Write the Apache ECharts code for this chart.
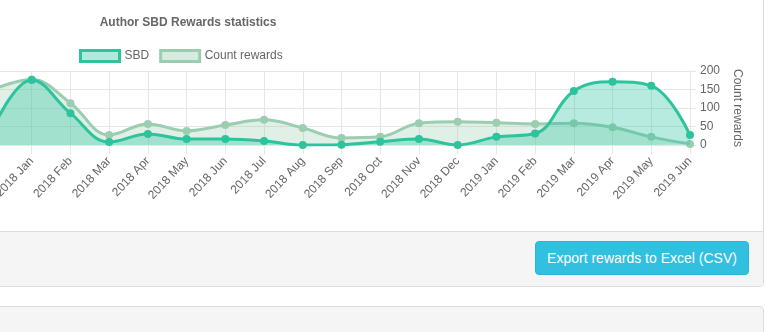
<!DOCTYPE html>
<html>
<head>
<meta charset="utf-8">
<script src="https://cdn.jsdelivr.net/npm/echarts@6/dist/echarts.min.js"></script>
<style>
  html, body { margin: 0; padding: 0; width: 765px; height: 332px; overflow: hidden; background: #fff; font-family: "Liberation Sans", Arial, sans-serif; }
  .panel { position: absolute; left: -10px; top: -10px; width: 772px; height: 295px; border: 1px solid #dddddd; border-radius: 4px; background: #fff; overflow: hidden; }
  .footer { position: absolute; left: 0; top: 240px; width: 100%; height: 55px; background: #f5f5f5; border-top: 1px solid #dddddd; }
  .panel2 { position: absolute; left: -10px; top: 306px; width: 772px; height: 60px; border: 1px solid #dddddd; border-radius: 4px; background: #f5f5f5; }
  .btn { position: absolute; left: 535px; top: 241px; width: 214px; height: 34px; box-sizing: border-box; background: #31c0df; border: 1px solid #2bb5d6; border-radius: 4px; color: #fff; font-size: 14px; line-height: 32px; text-align: center; font-family: "Liberation Sans", Arial, sans-serif; }
  #chart { position: absolute; left: -100px; top: 0; width: 863px; height: 230px; }
</style>
</head>
<body>
<div class="panel"><div class="footer"></div></div>
<div class="panel2"></div>
<div class="btn">Export rewards to Excel (CSV)</div>
<div id="chart"></div>
<script>
const categories = ['2017 Dec','2018 Jan','2018 Feb','2018 Mar','2018 Apr','2018 May','2018 Jun','2018 Jul','2018 Aug','2018 Sep','2018 Oct','2018 Nov','2018 Dec','2019 Jan','2019 Feb','2019 Mar','2019 Apr','2019 May','2019 Jun'];
const sbdValues = [45, 176, 86, 8, 30, 16, 16, 11, 0, 1, 9, 16, 0, 22, 31, 146, 171, 160, 27];
const countValues = [150, 177, 113, 27, 57, 38, 54, 68, 46, 19, 22, 59, 63, 60, 57, 59, 48, 22, 3];
const countTicks = [0, 50, 100, 150, 200];

const FONT = '"Liberation Sans", Arial, sans-serif';
const sbdLine = '#2cc39d';
const countLine = '#9bcdb1';
const gridColor = '#e6e6e6';

const chart = echarts.init(document.getElementById('chart'));
chart.setOption({
  animation: false,
  textStyle: { fontFamily: FONT },
  title: {
    text: 'Author SBD Rewards statistics',
    left: 283, top: 12, textAlign: 'center',
    textStyle: { fontFamily: FONT, fontSize: 12, fontWeight: 'bold', color: '#666' }
  },
  legend: {
    left: 174, top: 44,
    itemWidth: 39, itemHeight: 11, itemGap: 10,
    textStyle: { fontFamily: FONT, fontSize: 12, color: '#666' },
    data: [
      { name: 'SBD', icon: 'rect', itemStyle: { color: 'rgba(44,195,157,0.36)', borderColor: sbdLine, borderWidth: 3 } },
      { name: 'Count rewards', icon: 'rect', itemStyle: { color: 'rgba(155,205,177,0.4)', borderColor: countLine, borderWidth: 3 } }
    ]
  },
  grid: { left: 93, right: 73, top: 71, bottom: 85 },
  xAxis: {
    type: 'category', data: categories, boundaryGap: false,
    axisLine: { show: false },
    axisTick: { show: true, length: 9, lineStyle: { color: gridColor } },
    splitLine: { show: true, lineStyle: { color: gridColor } },
    axisLabel: { rotate: 47, margin: 14, fontSize: 12, color: '#666', fontFamily: FONT, interval: 0 }
  },
  yAxis: [
    { type: 'value', min: 0, max: 200, interval: 50, show: false, splitLine: { show: false } },
    {
      type: 'value', position: 'right', min: 0, max: 200, interval: 50,
      name: 'Count rewards', nameLocation: 'middle', nameGap: 40, nameRotate: -90,
      nameTextStyle: { fontSize: 12, color: '#666', fontFamily: FONT },
      axisLine: { show: true, lineStyle: { color: gridColor } },
      axisTick: { show: true, length: 6, lineStyle: { color: gridColor } },
      splitLine: { show: true, lineStyle: { color: gridColor } },
      axisLabel: { margin: 10, fontSize: 12, color: '#666', fontFamily: FONT,
        formatter: v => countTicks.includes(v) ? String(v) : '' }
    }
  ],
  series: [
    {
      name: 'Count rewards', type: 'line', yAxisIndex: 1, data: countValues,
      smooth: 0.4, symbol: 'circle', symbolSize: 8, z: 2,
      lineStyle: { color: countLine, width: 3 },
      itemStyle: { color: countLine },
      areaStyle: { color: 'rgba(150,205,175,0.42)', origin: 'start' }
    },
    {
      name: 'SBD', type: 'line', yAxisIndex: 0, data: sbdValues,
      smooth: 0.4, symbol: 'circle', symbolSize: 8, z: 3,
      lineStyle: { color: sbdLine, width: 3 },
      itemStyle: { color: sbdLine },
      areaStyle: { color: 'rgba(40,195,158,0.47)', origin: 'start' }
    }
  ]
});
</script>
</body>
</html>
